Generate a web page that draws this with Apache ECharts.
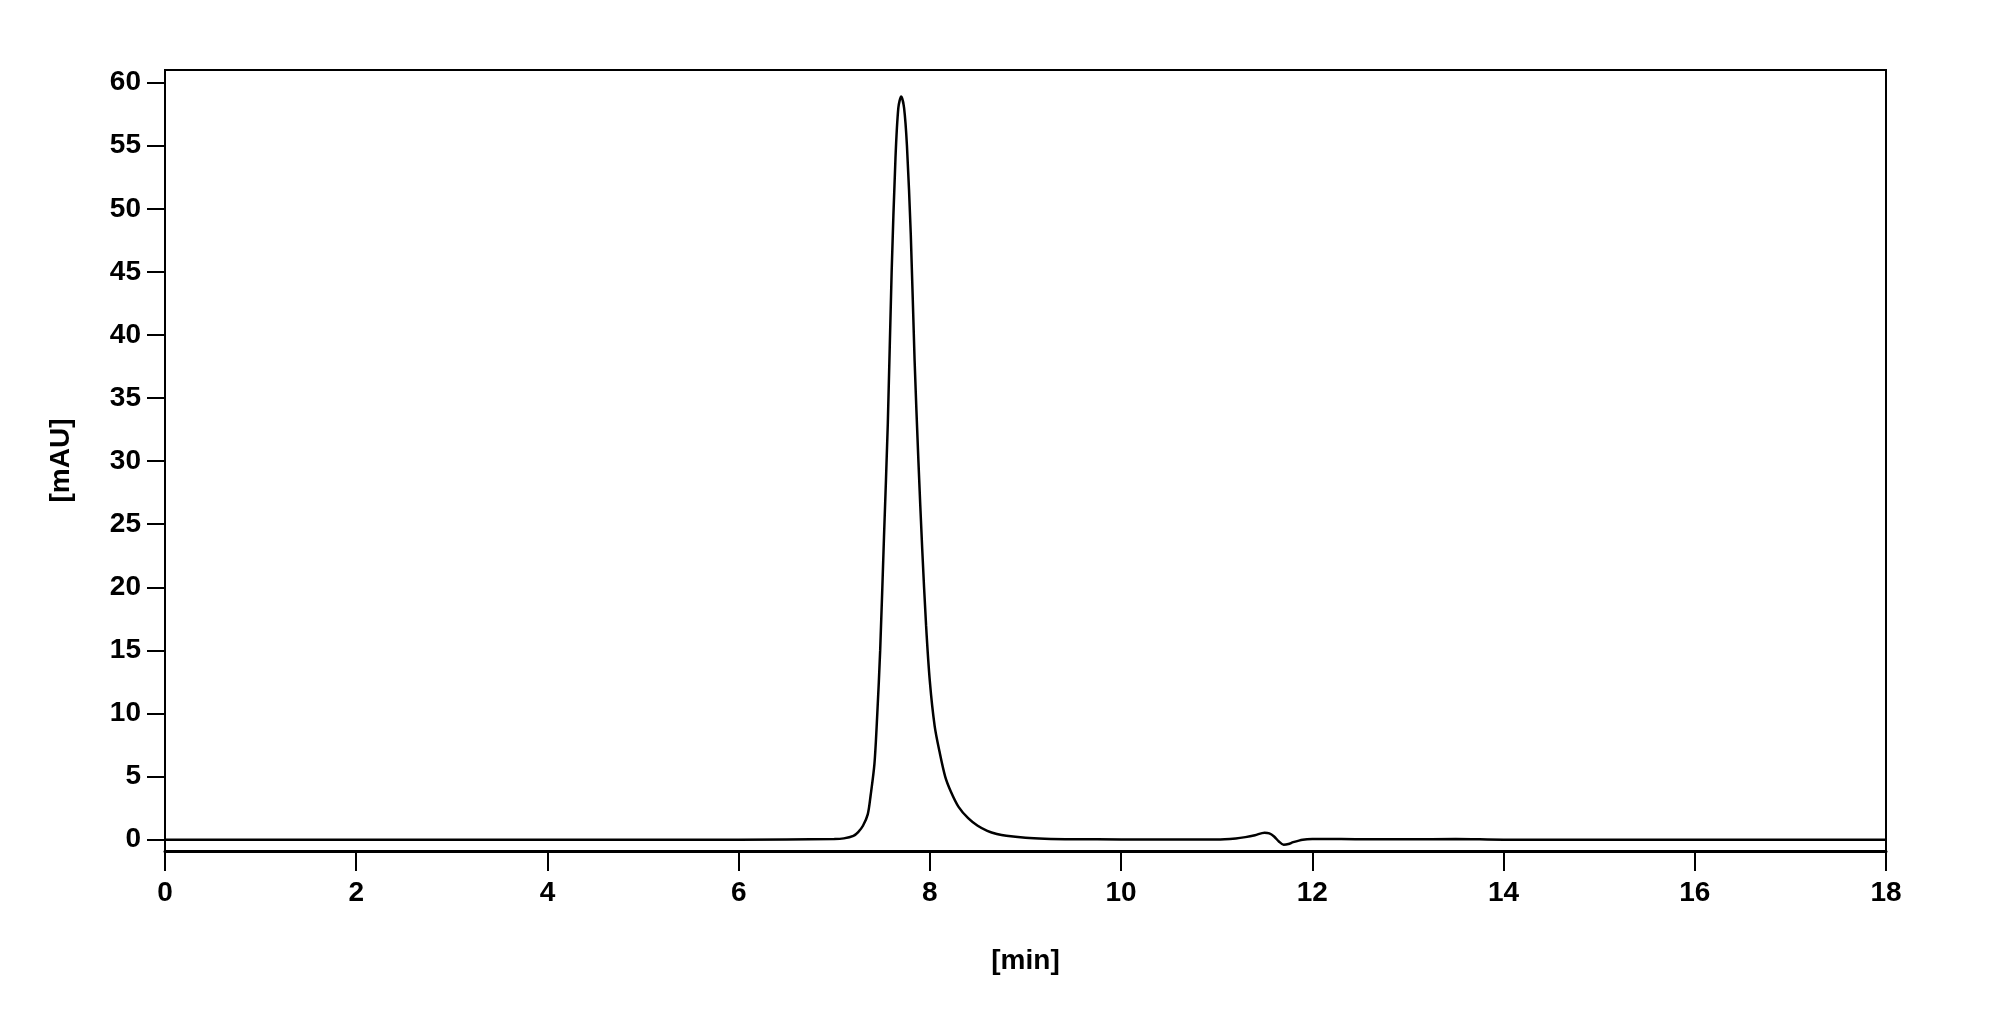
<!DOCTYPE html>
<html><head><meta charset="utf-8">
<script src="https://cdn.jsdelivr.net/npm/echarts@6/dist/echarts.min.js"></script>
<style>html,body{margin:0;padding:0;background:#fff}#c{width:1996px;height:1019px}</style>
</head><body><div id="c"></div>
<script>
const times = [0,2,4,6,7.0,7.1,7.2,7.25,7.3,7.35,7.38,7.42,7.45,7.48,7.52,7.56,7.6,7.64,7.67,7.7,7.73,7.76,7.8,7.84,7.88,7.92,7.96,8.0,8.05,8.1,8.16,8.22,8.3,8.4,8.5,8.6,8.7,8.8,9.0,9.2,9.5,10,11,11.2,11.3,11.4,11.5,11.55,11.6,11.65,11.7,11.75,11.8,11.9,12.0,12.3,12.6,13,13.5,14,16,18];
const signal = [0,0,0,0,0.05,0.1,0.3,0.6,1.1,2,3.5,6,10,15,24,33,45,54,58,58.9,58,55,48,38,30,23,17,12.5,9,7,5,3.8,2.6,1.7,1.1,0.7,0.45,0.3,0.15,0.08,0.04,0.02,0.02,0.1,0.2,0.35,0.55,0.5,0.25,-0.15,-0.4,-0.35,-0.2,0,0.05,0.05,0.03,0.03,0.05,0,0,0];
const xTicks = [0,2,4,6,8,10,12,14,16,18];
const yTicks = [0,5,10,15,20,25,30,35,40,45,50,55,60];
const data = times.map((t,i)=>[t,signal[i]]);
const font = {fontFamily:'Liberation Sans',fontWeight:'bold',fontSize:28,color:'#000'};
const chart = echarts.init(document.getElementById('c'));
chart.setOption({
  animation:false,
  grid:{left:165,right:110,top:70,bottom:168,show:true,borderColor:'#000',borderWidth:2},
  xAxis:{type:'value',min:0,max:18,
    name:'[min]',nameLocation:'middle',nameGap:96,nameTextStyle:font,
    axisLine:{show:true,onZero:false,lineStyle:{color:'#000',width:3}},
    axisTick:{show:true,length:20,customValues:xTicks,lineStyle:{color:'#000',width:2}},
    axisLabel:{customValues:xTicks,margin:28,...font},
    splitLine:{show:false}},
  yAxis:{type:'value',min:-0.9,max:61,
    name:'[mAU]',nameLocation:'middle',nameGap:90,nameRotate:90,nameTextStyle:font,
    axisLine:{show:true,onZero:false,lineStyle:{color:'#000',width:2}},
    axisTick:{show:true,length:18,customValues:yTicks,lineStyle:{color:'#000',width:2}},
    axisLabel:{customValues:yTicks,margin:24,...font},
    splitLine:{show:false}},
  series:[{type:'line',data:data,smooth:0.3,symbol:'none',lineStyle:{color:'#000',width:2.5}}]
});
</script></body></html>
